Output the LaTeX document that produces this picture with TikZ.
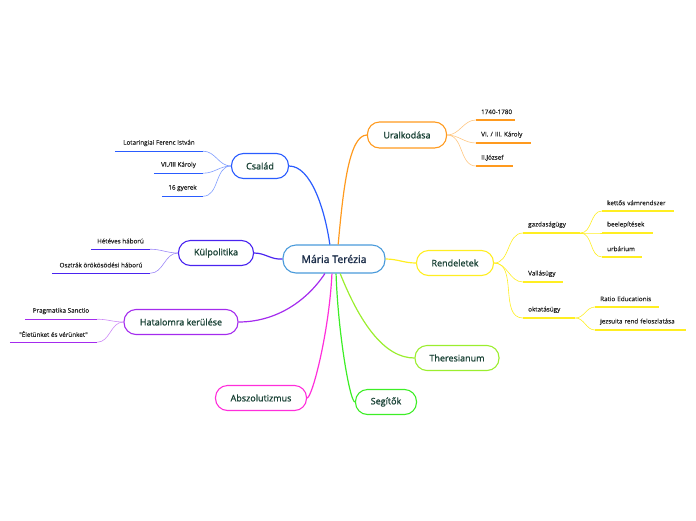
\documentclass[tikz,border=0pt]{standalone}
\usepackage{fontspec}
\setmainfont{Open Sans}
\newfontfamily\topicfont{Open Sans}[FakeBold=1.3]
\newfontfamily\leaffont{Open Sans}[FakeBold=0.4]
\begin{document}
\begin{tikzpicture}[x=1pt,y=-1pt,
  topic/.style={draw, line width=1.1pt, fill=white, rounded corners=12pt, minimum height=25pt, inner sep=0pt, font=\topicfont\fontsize{9}{10}\selectfont, text=nodetext},
  leafc/.style={inner sep=0pt, minimum height=16pt, font=\leaffont\fontsize{6.3}{7}\selectfont, text=leaftext},
  leafl/.style={leafc, align=left},
  ul/.style={line width=1.4pt},
  main/.style={line width=1.2pt},
  thin/.style={line width=0.6pt}]
\definecolor{nodetext}{HTML}{1C4438}
\definecolor{mtext}{HTML}{1A2C48}
\definecolor{leaftext}{HTML}{262626}
\definecolor{cCsal}{HTML}{2A5CFF}
\definecolor{cKul}{HTML}{4A24F0}
\definecolor{cHat}{HTML}{A42BEE}
\definecolor{cAbs}{HTML}{FF2EDB}
\definecolor{cSeg}{HTML}{3DEE26}
\definecolor{cTher}{HTML}{9BEE2E}
\definecolor{cRend}{HTML}{FFEE22}
\definecolor{cUral}{HTML}{FF9A1E}
\definecolor{cMain}{HTML}{4A9BDB}
\useasboundingbox (0,0) rectangle (696,520);

\node[topic, draw=cMain, minimum width=102pt, minimum height=28pt, rounded corners=13pt, font=\topicfont\fontsize{10.5}{12}\selectfont, text=mtext] (mt) at (334,259) {Mária Terézia};

\node[topic, draw=cCsal, minimum width=57pt] (csal) at (260,166) {Család};
\node[topic, draw=cKul, minimum width=75pt] (kul) at (216,253) {Külpolitika};
\node[topic, draw=cHat, minimum width=114pt] (hat) at (181,322) {Hatalomra kerülése};
\node[topic, draw=cAbs, minimum width=91pt] (absz) at (261,398) {Abszolutizmus};
\node[topic, draw=cSeg, minimum width=61pt] (seg) at (386,402) {Segítők};
\node[topic, draw=cTher, minimum width=84pt] (ther) at (457,358) {Theresianum};
\node[topic, draw=cRend, minimum width=77pt] (rend) at (455,263) {Rendeletek};
\node[topic, draw=cUral, minimum width=79pt, minimum height=26pt] (ural) at (407,135) {Uralkodása};

\draw[main, cCsal] (mt.106) .. controls +(-5,-35) and +(22,0) .. (csal.east);
\draw[main, cUral] (mt.74) .. controls +(5,-55) and +(-18,0) .. (ural.west);
\draw[main, cKul] (mt.west) to[out=185, in=0] (kul.east);
\draw[main, cHat] (mt.-122) .. controls +(-20,30) and +(35,0) .. (hat.east);
\draw[main, cAbs] (mt.-98) .. controls +(-3,60) and +(5,0) .. (absz.east);
\draw[main, cSeg] (mt.-82) .. controls +(2,60) and +(-5,0) .. (seg.west);
\draw[main, cTher] (mt.-67) .. controls +(20,50) and +(-30,0) .. (ther.west);
\draw[main, cRend] (mt.east) to[out=0, in=180] (rend.west);

% left leaves: Család
\node[leafc, minimum width=88pt] (c1) at (159,143) {Lotaringiai Ferenc István};
\node[leafc, minimum width=49pt] (c2) at (178.5,165) {VI./III Károly};
\node[leafc, minimum width=41pt] (c3) at (182.5,188) {16 gyerek};
% Külpolitika
\node[leafc, minimum width=59pt] (k1) at (120.5,241) {Hétéves háború};
\node[leafc, minimum width=98pt] (k2) at (101,265) {Osztrák örökösödési háború};
% Hatalomra
\node[leafc, minimum width=72pt] (h1) at (61,311) {Pragmatika Sanctio};
\node[leafc, minimum width=87pt] (h2) at (53.5,334) {"Életünket és vérünket"};

\foreach \n in {c1,c2,c3}{
  \draw[ul, cCsal] (\n.south west) -- (\n.south east);
  \draw[thin, cCsal!60] (\n.south east) to[out=0, in=180] (csal.west);}
\foreach \n in {k1,k2}{
  \draw[ul, cKul] (\n.south west) -- (\n.south east);
  \draw[thin, cKul!55] (\n.south east) to[out=0, in=180] (kul.west);}
\foreach \n in {h1,h2}{
  \draw[ul, cHat] (\n.south west) -- (\n.south east);
  \draw[thin, cHat!55] (\n.south east) to[out=0, in=180] (hat.west);}

% right leaves: Uralkodása
\node[leafl, text width=39pt, anchor=south west] (u1) at (476,120) {\hspace*{5pt}1740-1780};
\node[leafl, text width=55pt, anchor=south west] (u2) at (476,143) {\hspace*{5pt}VI. / III. Károly};
\node[leafl, text width=37pt, anchor=south west] (u3) at (476,166) {\hspace*{5pt}II.József};
\foreach \n in {u1,u2,u3}{
  \draw[ul, cUral] (\n.south west) -- (\n.south east);
  \draw[thin, cUral!55] (ural.east) to[out=0, in=180] (\n.south west);}

% Rendeletek
\node[leafl, text width=57pt, anchor=south west] (r1) at (523,233) {\hspace*{5pt}gazdaságügy};
\node[leafl, text width=40pt, anchor=south west] (r2) at (523,282) {\hspace*{5pt}Vallásügy};
\node[leafl, text width=52pt, anchor=south west] (r3) at (523,318) {\hspace*{5pt}oktatásügy};
\foreach \n in {r1,r2,r3}{
  \draw[ul, cRend] (\n.south west) -- (\n.south east);
  \draw[thin, cRend] (rend.east) to[out=0, in=180] (\n.south west);}

\node[leafl, text width=72pt, anchor=south west] (g1) at (602,211) {\hspace*{5pt}kettős vámrendszer};
\node[leafl, text width=51pt, anchor=south west] (g2) at (602,233) {\hspace*{5pt}beelepítések};
\node[leafl, text width=40pt, anchor=south west] (g3) at (602,257) {\hspace*{5pt}urbárium};
\foreach \n in {g1,g2,g3}{
  \draw[ul, cRend] (\n.south west) -- (\n.south east);
  \draw[thin, cRend] (r1.south east) to[out=0, in=180] (\n.south west);}

\node[leafl, text width=64pt, anchor=south west] (o1) at (595,307) {\hspace*{5pt}Ratio Educationis};
\node[leafl, text width=91pt, anchor=south west] (o2) at (595,330) {\hspace*{5pt}jezsuita rend feloszlatása};
\foreach \n in {o1,o2}{
  \draw[ul, cRend] (\n.south west) -- (\n.south east);
  \draw[thin, cRend] (r3.south east) to[out=0, in=180] (\n.south west);}
\end{tikzpicture}
\end{document}
